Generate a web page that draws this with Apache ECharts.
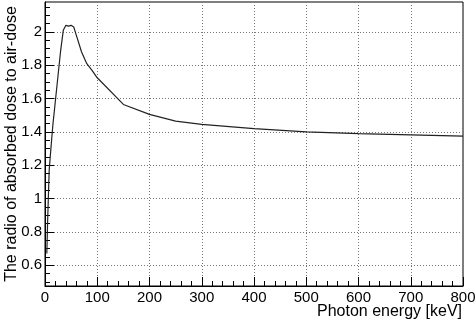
<!DOCTYPE html>
<html>
<head>
<meta charset="utf-8">
<script src="https://cdn.jsdelivr.net/npm/echarts@6/dist/echarts.min.js"></script>
<style>
  html, body { margin: 0; padding: 0; background: #fff; }
  #chart { width: 475px; height: 323px; }
</style>
</head>
<body>
<div id="chart"></div>
<script>
// photon energy [keV] and ratio of absorbed dose to air dose
const energy = [3.5, 5, 8, 10, 15, 20, 25, 30, 35, 40, 45, 50, 55, 60, 70, 80, 90, 100, 150, 200, 250, 300, 400, 500, 600, 700, 800];
const ratio = [0.67, 0.86, 1.17, 1.25, 1.44, 1.59, 1.74, 1.89, 2.01, 2.04, 2.035, 2.04, 2.03, 1.98, 1.88, 1.81, 1.77, 1.725, 1.565, 1.505, 1.465, 1.445, 1.42, 1.40, 1.39, 1.382, 1.375];

// y axis tick labels (major) and minor tick positions
const yMajor = [0.6, 0.8, 1.0, 1.2, 1.4, 1.6, 1.8, 2.0];
const yMinor = [0.5, 0.55, 0.65, 0.7, 0.75, 0.85, 0.9, 0.95, 1.05, 1.1, 1.15, 1.25, 1.3, 1.35,
  1.45, 1.5, 1.55, 1.65, 1.7, 1.75, 1.85, 1.9, 1.95, 2.05, 2.1, 2.15];

const font = '"Liberation Sans", Arial, Helvetica, sans-serif';
const chart = echarts.init(document.getElementById('chart'));

const option = {
  animation: false,
  backgroundColor: '#fff',
  grid: {
    left: 45, right: 12, top: 2, bottom: 37,
    outerBoundsMode: 'none',
    containLabel: false,
    show: true, borderColor: '#000', borderWidth: 1
  },
  xAxis: {
    type: 'value',
    min: 0, max: 800, interval: 100,
    name: 'Photon energy [keV]',
    nameLocation: 'end',
    nameGap: -1,
    nameMoveOverlap: false,
    nameTextStyle: {
      fontFamily: font, fontSize: 16, color: '#000',
      align: 'right', verticalAlign: 'top', padding: [18, 0, 0, 0]
    },
    axisLine: { lineStyle: { color: '#000', width: 1 } },
    axisTick: { inside: true, length: 9, lineStyle: { color: '#000' } },
    minorTick: { show: true, splitNumber: 5, length: 5, lineStyle: { color: '#000' } },
    axisLabel: { fontFamily: font, fontSize: 15, color: '#000', margin: 4 },
    splitLine: { show: true, lineStyle: { color: '#777', type: [1, 2], width: 1 } }
  },
  yAxis: [{
    type: 'value',
    min: 0.475, max: 2.18,
    name: 'The radio of absorbed dose to air-dose',
    nameLocation: 'middle',
    nameGap: 25,
    nameMoveOverlap: false,
    nameTextStyle: { fontFamily: font, fontSize: 16, color: '#000' },
    axisLine: { lineStyle: { color: '#000', width: 1 } },
    axisTick: { inside: true, length: 9, customValues: yMajor, lineStyle: { color: '#000' } },
    axisLabel: {
      fontFamily: font, fontSize: 15, color: '#000', margin: 3,
      customValues: yMajor,
      formatter: v => String(Math.round(v * 10) / 10)
    },
    splitLine: { show: true, lineStyle: { color: '#777', type: [1, 2], width: 1 } }
  }, {
    type: 'value',
    min: 0.475, max: 2.18,
    position: 'left',
    axisLine: { show: false },
    axisTick: { inside: true, length: 5, customValues: yMinor, lineStyle: { color: '#000' } },
    axisLabel: { show: false },
    splitLine: { show: false }
  }],
  series: [{
    type: 'line',
    data: energy.map((e, i) => [e, ratio[i]]),
    showSymbol: false,
    smooth: false,
    lineStyle: { color: '#222', width: 1.2 }
  }]
};

chart.setOption(option);
</script>
</body>
</html>
